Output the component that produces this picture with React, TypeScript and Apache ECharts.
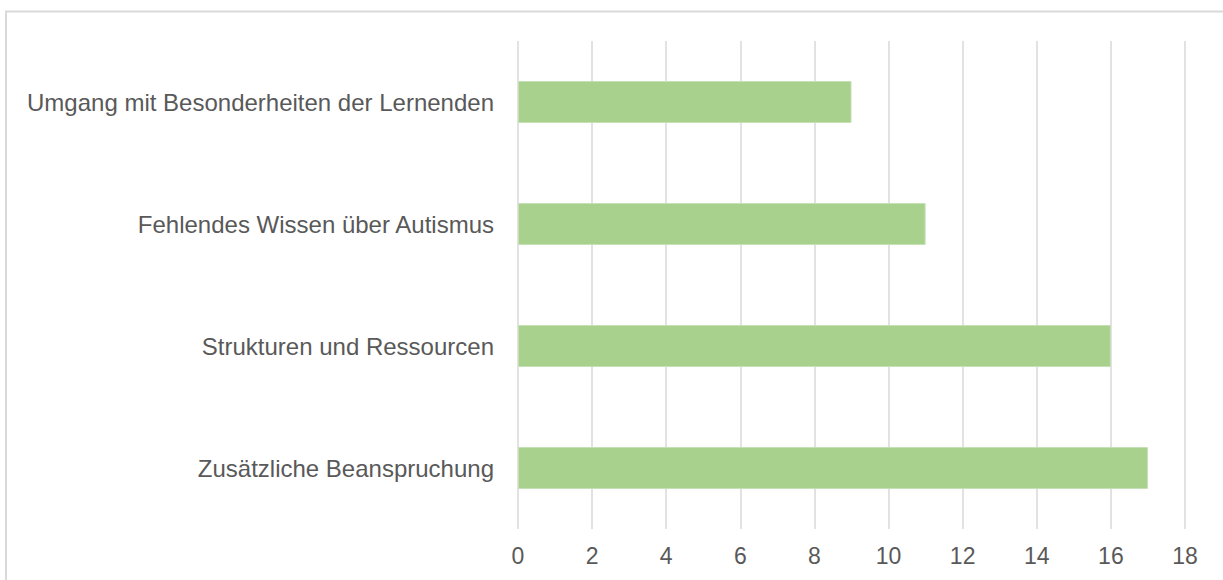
import React, { useEffect, useRef } from "react";
import * as echarts from "echarts";

const categories = [
  "Umgang mit Besonderheiten der Lernenden",
  "Fehlendes Wissen über Autismus",
  "Strukturen und Ressourcen",
  "Zusätzliche Beanspruchung",
];
const values = [9, 11, 16, 17];
const xMin = 0;
const xMax = 18;
const xInterval = 2;

export default function App() {
  const ref = useRef<HTMLDivElement>(null);
  useEffect(() => {
    if (!ref.current) return;
    const chart = echarts.init(ref.current, null, { renderer: "svg" });
    chart.setOption({
      animation: false,
      backgroundColor: "#ffffff",
      textStyle: { fontFamily: "Liberation Sans, Arial, sans-serif" },
      graphic: [
        {
          type: "rect",
          shape: { x: 6, y: 11.5, width: 1400, height: 800 },
          style: { fill: "none", stroke: "#d9d9d9", lineWidth: 2 },
          silent: true,
        },
      ],
      grid: { left: 518, right: 38, top: 41, bottom: 51, containLabel: false },
      xAxis: {
        type: "value",
        min: xMin,
        max: xMax,
        interval: xInterval,
        axisLine: { show: false },
        axisTick: { show: false },
        axisLabel: { color: "#595959", fontSize: 23, margin: 15 },
        splitLine: { show: true, lineStyle: { color: "#d9d9d9", width: 1.5 } },
      },
      yAxis: {
        type: "category",
        data: categories,
        inverse: true,
        axisLine: { show: false },
        axisTick: { show: false },
        axisLabel: { color: "#595959", fontSize: 24, margin: 24 },
        splitLine: { show: false },
      },
      series: [
        {
          type: "bar",
          data: values,
          barWidth: 42,
          itemStyle: { color: "#a9d18e", borderColor: "#c5e0b4", borderWidth: 1 },
        },
      ],
    });
    return () => chart.dispose();
  }, []);
  return (
    <div
      ref={ref}
      style={{ position: "absolute", left: 0, top: 0, width: 1223, height: 580 }}
    />
  );
}
